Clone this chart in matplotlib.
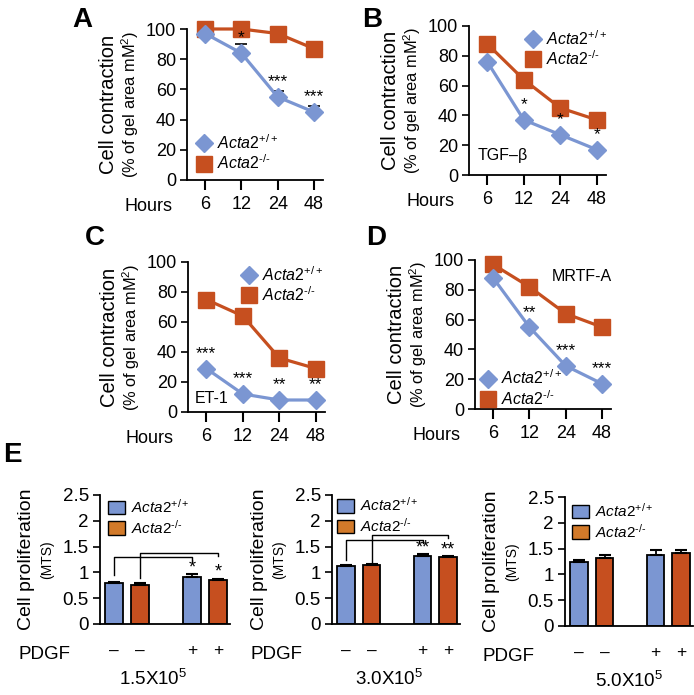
import matplotlib
matplotlib.use('Agg')
import matplotlib.pyplot as plt
from matplotlib.lines import Line2D
from matplotlib.patches import Patch
from matplotlib.transforms import blended_transform_factory

plt.rcParams['font.family'] = ['Liberation Sans', 'DejaVu Sans']
plt.rcParams['mathtext.fontset'] = 'custom'
plt.rcParams['mathtext.rm'] = 'Liberation Sans'
plt.rcParams['mathtext.it'] = 'Liberation Sans:italic'
plt.rcParams['mathtext.bf'] = 'Liberation Sans:bold'

# ---------------- data ----------------
hours = ['6', '12', '24', '48']

a_wt = [97, 84, 55, 45]
a_wt_err = [0, 6, 4, 4]
a_ko = [100, 100, 97, 87]
a_stars = ['', '*', '***', '***']

b_wt = [76, 37, 27, 17]
b_ko = [88, 64, 45, 37]
b_stars = ['', '*', '*', '*']

c_wt = [29, 12, 8, 8]
c_ko = [75, 64, 36, 29]
c_stars = ['***', '***', '**', '**']

d_wt = [88, 55, 29, 17]
d_ko = [97, 82, 64, 55]
d_stars = ['', '**', '***', '***']

bar_pos = [0, 1, 3, 4]
pdgf_signs = ['–', '–', '+', '+']
densities = [r'1.5X10$^5$', r'3.0X10$^5$', r'5.0X10$^5$']
prolif_vals = [[0.80, 0.76, 0.92, 0.86],
               [1.13, 1.14, 1.31, 1.30],
               [1.25, 1.31, 1.38, 1.42]]
prolif_err = [[0.01, 0.03, 0.05, 0.02],
              [0.01, 0.02, 0.04, 0.02],
              [0.02, 0.06, 0.10, 0.06]]
prolif_stars = [['', '', '*', '*'], ['', '', '**', '**'], ['', '', '', '']]

WT_LABEL = r'$\mathit{Acta2}^{+/+}$'
KO_LABEL = r'$\mathit{Acta2}^{‐/‐}$'

BLUE = '#7b96d2'
RED = '#c64f1f'
LEG_OR = '#d27a2a'

W, H = 694, 695
fig = plt.figure(figsize=(W / 100, H / 100), dpi=100)


def px_axes(l, t, r, b):
    ax = fig.add_axes([l / W, 1 - b / H, (r - l) / W, (b - t) / H])
    ax._pxw = r - l
    ax._pxh = b - t
    return ax


def style_spines(ax):
    for s in ('top', 'right'):
        ax.spines[s].set_visible(False)
    for s in ('left', 'bottom'):
        ax.spines[s].set_linewidth(1.3)
        ax.spines[s].set_color('black')


def line_panel(rect, wt, ko, stars, leg_anchor, wt_err=None, note=None, note_xy=None):
    ax = px_axes(*rect)
    x = list(range(len(hours)))
    if wt_err is not None:
        ax.errorbar(x, wt, yerr=[[0] * len(wt), wt_err], fmt='none', ecolor='black',
                    elinewidth=1, capsize=4.5, capthick=1.2, zorder=2)
    ax.plot(x, ko, color=RED, lw=2.3, marker='s', ms=12, clip_on=False, zorder=3)
    ax.plot(x, wt, color=BLUE, lw=2.3, marker='D', ms=9.3, clip_on=False, zorder=4)
    for xi, (v, s) in enumerate(zip(wt, stars)):
        if s:
            ax.text(xi, v + 10, s, ha='center', va='center', fontsize=12.5)
    ax.set_xlim(-0.5, 3.25)
    ax.set_ylim(0, 100)
    ax.set_yticks(range(0, 101, 20))
    ax.set_xticks(x)
    ax.set_xticklabels(hours)
    style_spines(ax)
    ax.tick_params(axis='x', length=7, width=1.5, labelsize=13, pad=4.5)
    ax.tick_params(axis='y', length=5, width=1.2, labelsize=13, pad=3)
    ax.text(-14 / ax._pxw, -31 / ax._pxh, 'Hours', transform=ax.transAxes,
            ha='right', va='baseline', fontsize=13)
    ax.text(-78 / ax._pxw, 0.5, 'Cell contraction', transform=ax.transAxes,
            rotation=90, ha='center', va='center', fontsize=14.5)
    ax.text(-57 / ax._pxw, 0.5, '(% of gel area mM$^2$)', transform=ax.transAxes,
            rotation=90, ha='center', va='center', fontsize=11.8)
    handles = [Line2D([], [], ls='none', marker='D', ms=9.3, color=BLUE, label=WT_LABEL),
               Line2D([], [], ls='none', marker='s', ms=12, color=RED, label=KO_LABEL)]
    ax.legend(handles=handles, loc='upper left', bbox_to_anchor=leg_anchor, frameon=False,
              fontsize=11.5, handlelength=1.0, handletextpad=0.3, labelspacing=0.1,
              borderpad=0, borderaxespad=0)
    if note:
        ax.text(note_xy[0], note_xy[1], note, transform=ax.transAxes, ha='left',
                va='center', fontsize=11.5)
    return ax


line_panel((187, 29, 323, 180), a_wt, a_ko, a_stars, (0.066, 0.31), wt_err=a_wt_err)
line_panel((469, 26, 606, 175), b_wt, b_ko, b_stars, (0.41, 0.98),
           note='TGF–β', note_xy=(0.066, 0.134))
line_panel((188, 262, 325, 412), c_wt, c_ko, c_stars, (0.39, 0.98),
           note='ET-1', note_xy=(0.05, 0.093))
line_panel((475, 260, 611, 409), d_wt, d_ko, d_stars, (0.04, 0.27),
           note='MRTF-A', note_xy=(0.566, 0.886))

# ---------------- panel E ----------------
e_rects = [(100, 495, 230, 624), (332, 495, 460, 624), (565, 497, 693, 626)]
e_leg = [(0.06, 0.975), (0.04, 0.99), (0.055, 0.96)]
e_dens_x = [1.5, 1.7, 1.95]
# bracket geometry (annotation lines): (start bar index, end bar index, base y, top y)
e_brackets = [[(0, 2, 0.94, 1.29), (1, 3, 0.90, 1.37)],
              [(0, 2, 1.24, 1.63), (1, 3, 1.20, 1.72)],
              []]
bar_colors = [BLUE, RED, BLUE, RED]

for i in range(3):
    ax = px_axes(*e_rects[i])
    vals = prolif_vals[i]
    errs = prolif_err[i]
    ax.bar(bar_pos, vals, width=0.7, color=bar_colors, edgecolor='black', linewidth=1.3,
           zorder=2)
    ax.errorbar(bar_pos, vals, yerr=[[0] * 4, errs], fmt='none', ecolor='black',
                elinewidth=1.3, capsize=4, capthick=1.5, zorder=3)
    for p, v, e, s in zip(bar_pos, vals, errs, prolif_stars[i]):
        if s:
            ax.text(p, v + e + 0.12, s, ha='center', va='center', fontsize=13)
    for (b0, b1, y0, y1) in e_brackets[i]:
        x0, x1 = bar_pos[b0], bar_pos[b1]
        ax.plot([x0, x0, x1, x1], [y0, y1, y1, y1 - 0.06], color='black', lw=1.0,
                zorder=1)
    ax.set_xlim(-0.55, 4.47)
    ax.set_ylim(0, 2.5)
    ax.set_yticks([0, 0.5, 1, 1.5, 2, 2.5])
    ax.set_yticklabels(['0', '0.5', '1', '1.5', '2', '2.5'])
    ax.set_xticks(bar_pos)
    ax.set_xticklabels(pdgf_signs)
    style_spines(ax)
    ax.tick_params(axis='x', length=0, labelsize=12.5, pad=14)
    ax.tick_params(axis='y', length=5, width=1.2, labelsize=13.5, pad=3)
    ax.text(-30 / ax._pxw, -35 / ax._pxh, 'PDGF', transform=ax.transAxes,
            ha='right', va='baseline', fontsize=13.5)
    tr = blended_transform_factory(ax.transData, ax.transAxes)
    ax.text(e_dens_x[i], -55 / ax._pxh, densities[i], transform=tr, ha='center',
            va='center', fontsize=13.5)
    ax.text(-73 / ax._pxw, 0.5, 'Cell proliferation', transform=ax.transAxes,
            rotation=90, ha='center', va='center', fontsize=14)
    ax.text(-53 / ax._pxw, 0.5, '(MTS)', transform=ax.transAxes,
            rotation=90, ha='center', va='center', fontsize=10)
    handles = [Patch(facecolor=BLUE, edgecolor='black', linewidth=1.0, label=WT_LABEL),
               Patch(facecolor=LEG_OR, edgecolor='black', linewidth=1.0, label=KO_LABEL)]
    ax.legend(handles=handles, loc='upper left', bbox_to_anchor=e_leg[i], frameon=False,
              fontsize=11, handlelength=1.1, handleheight=0.95, handletextpad=0.4,
              labelspacing=0.15, borderpad=0, borderaxespad=0)

# panel letters
for letter, (lx, ly) in zip('ABCDE', [(82, 20), (372, 20), (95, 238), (376, 238), (12, 455)]):
    fig.text(lx / W, 1 - ly / H, letter, ha='center', va='center', fontsize=20,
             fontweight='bold')

fig.savefig('out.png', dpi=100)
